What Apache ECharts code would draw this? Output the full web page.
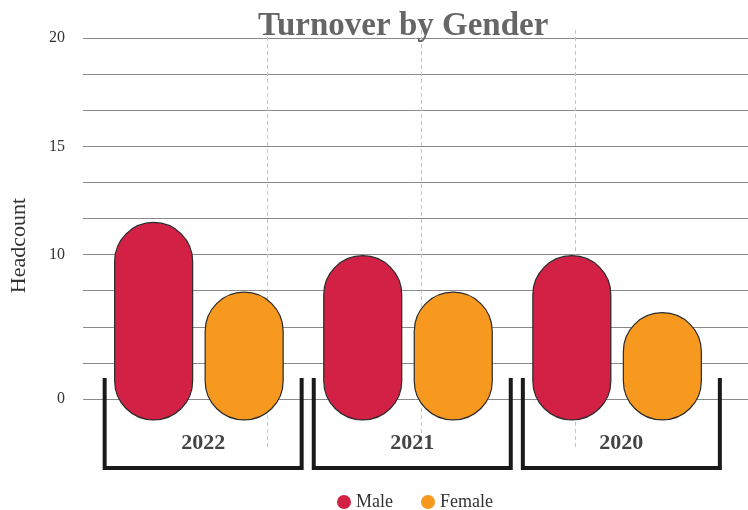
<!DOCTYPE html>
<html>
<head>
<meta charset="utf-8">
<script src="https://cdn.jsdelivr.net/npm/echarts@6/dist/echarts.min.js"></script>
<style>
  html, body { margin: 0; padding: 0; background: #fff; }
  #chart { width: 748px; height: 510px; }
</style>
</head>
<body>
<div id="chart"></div>
<script>
// categories and values (values in gridline steps, 0 = the "0" line)
var years = ['2022', '2021', '2020'];
var male = [4.89, 3.97, 3.97];
var female = [2.96, 2.96, 2.39];
// tick labels for the 11 gridlines, bottom to top
var yTickLabels = ['0', '', '', '', '10', '', '', '15', '', '', '20'];
// bars start a little below the 0 line
var barBase = -0.58;

var serif = 'Liberation Serif';
var myChart = echarts.init(document.getElementById('chart'));

// pill shaped bar: half circles at both ends
function pillPath(x, y, w, h) {
    var r = w / 2;
    return 'M' + x + ' ' + (y + r) +
        ' A' + r + ' ' + r + ' 0 0 1 ' + (x + w) + ' ' + (y + r) +
        ' L' + (x + w) + ' ' + (y + h - r) +
        ' A' + r + ' ' + r + ' 0 0 1 ' + x + ' ' + (y + h - r) +
        ' Z';
}

function pillSeries(name, values, color, offset) {
    return {
        name: name,
        type: 'custom',
        xAxisIndex: 1,
        yAxisIndex: 1,
        itemStyle: { color: color },
        data: values.map(function (v, i) { return [i, v]; }),
        renderItem: function (params, api) {
            var top = api.coord([api.value(0), api.value(1)]);
            var bottom = api.coord([api.value(0), barBase]);
            var w = 78;
            return {
                type: 'path',
                shape: {
                    pathData: pillPath(top[0] + offset - w / 2, top[1], w, bottom[1] - top[1])
                },
                style: {
                    fill: api.visual('color'),
                    stroke: '#2a2a2a',
                    lineWidth: 1.2
                }
            };
        }
    };
}

var options = {
    animation: false,
    title: {
        text: 'Turnover by Gender',
        left: 253,
        top: 5,
        textStyle: {
            fontFamily: serif,
            fontSize: 33,
            fontWeight: 'bold',
            color: '#666'
        }
    },
    legend: {
        data: ['Male', 'Female'],
        left: 337,
        top: 493,
        padding: 0,
        icon: 'circle',
        itemWidth: 14,
        itemHeight: 14,
        itemGap: 28,
        itemStyle: { borderWidth: 0 },
        textStyle: {
            fontFamily: serif,
            fontSize: 18,
            color: '#333'
        }
    },
    grid: [
        { left: 83, right: 0, top: 38, bottom: 111, outerBoundsMode: 'none' },
        { left: 98.6, right: 22.1, top: 38, bottom: 111, outerBoundsMode: 'none' },
        { left: 113, right: 19, top: 30, bottom: 60, outerBoundsMode: 'none' }
    ],
    xAxis: [
        { gridIndex: 0, type: 'value', min: 0, max: 1, show: false },
        {
            gridIndex: 1,
            type: 'category',
            data: years,
            axisLine: { show: false },
            axisTick: { show: false },
            splitLine: { show: false },
            axisLabel: {
                margin: 33,
                fontFamily: serif,
                fontSize: 22,
                fontWeight: 'bold',
                color: '#444'
            }
        },
        {
            gridIndex: 2,
            type: 'value',
            min: 0,
            max: 4,
            interval: 1,
            axisLine: { show: false },
            axisTick: { show: false },
            axisLabel: { show: false },
            splitLine: {
                show: true,
                showMinLine: false,
                showMaxLine: false,
                lineStyle: { color: '#c4c4c4', type: [4, 3], width: 1 }
            }
        }
    ],
    yAxis: [
        {
            gridIndex: 0,
            type: 'value',
            min: 0,
            max: 10,
            interval: 1,
            name: 'Headcount',
            nameLocation: 'middle',
            nameGap: 53,
            nameTextStyle: {
                fontFamily: serif,
                fontSize: 22,
                color: '#333',
                padding: [0, 54, 0, 0]
            },
            axisLine: { show: false },
            axisTick: { show: false },
            axisLabel: {
                margin: 18,
                fontFamily: serif,
                fontSize: 16,
                color: '#333',
                formatter: function (v) { return yTickLabels[Math.round(v)]; }
            },
            splitLine: {
                show: true,
                lineStyle: { color: '#8a8a8a', width: 1 }
            }
        },
        { gridIndex: 1, type: 'value', min: 0, max: 10, show: false },
        { gridIndex: 2, type: 'value', min: 0, max: 1, show: false }
    ],
    series: [
        pillSeries('Male', male, '#D22145', -49.5),
        pillSeries('Female', female, '#F7981F', 41),
        {
            name: 'bracket',
            type: 'custom',
            xAxisIndex: 1,
            yAxisIndex: 1,
            silent: true,
            data: years.map(function (y, i) { return [i, 0]; }),
            renderItem: function (params, api) {
                var c = api.coord([api.value(0), 0]);
                var half = 98.5;
                return {
                    type: 'polyline',
                    shape: {
                        points: [
                            [c[0] - half, c[1] - 21],
                            [c[0] - half, c[1] + 69],
                            [c[0] + half, c[1] + 69],
                            [c[0] + half, c[1] - 21]
                        ]
                    },
                    style: { stroke: '#1a1a1a', lineWidth: 4, fill: null }
                };
            }
        }
    ]
};

myChart.setOption(options);
window.addEventListener('resize', function () {
    myChart.resize();
});
</script>
</body>
</html>
